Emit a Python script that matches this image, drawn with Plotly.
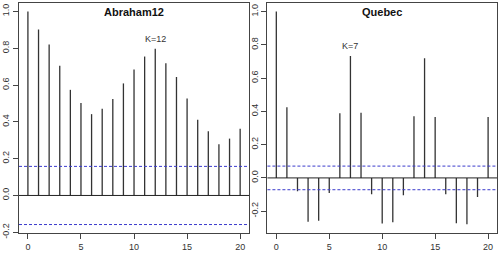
import plotly.graph_objects as go

lags = list(range(21))
abraham_acf = [1.0, 0.902, 0.82, 0.705, 0.574, 0.502, 0.442, 0.471, 0.524, 0.609, 0.685,
               0.755, 0.798, 0.718, 0.644, 0.527, 0.411, 0.349, 0.278, 0.309, 0.362]
quebec_acf = [1.0, 0.425, -0.080, -0.264, -0.258, -0.090, 0.389, 0.733, 0.392, -0.098, -0.274,
              -0.266, -0.104, 0.370, 0.719, 0.366, -0.098, -0.272, -0.278, -0.114, 0.366]
abraham_ci = 0.158
quebec_ci = 0.071
titles = ["Abraham12", "Quebec"]
peak_labels = ["K=12", "K=7"]
peak_lags = [12, 7]
x_ticks = [0, 5, 10, 15, 20]
y_ticks = [-0.2, 0.0, 0.2, 0.4, 0.6, 0.8, 1.0]
y_ticktext = ["-0.2", "0.0", "0.2", "0.4", "0.6", "0.8", "1.0"]

FONT = "Liberation Sans, Arial, sans-serif"
fig = go.Figure()

panels = [
    dict(vals=abraham_acf, ci=abraham_ci, xa="x", ya="y", dom=[0.0, 0.4813], yr=[-0.204, 1.046]),
    dict(vals=quebec_acf, ci=quebec_ci, xa="x2", ya="y2", dom=[0.5197, 1.0], yr=[-0.331, 1.051]),
]

layout = dict(
    width=499, height=254,
    margin=dict(l=16, r=1, t=3, b=21),
    paper_bgcolor="white", plot_bgcolor="white",
    showlegend=False,
    font=dict(family=FONT, size=9, color="#333333"),
)
shapes = []
annotations = []

for i, p in enumerate(panels):
    xs, ys = [], []
    for lag, v in zip(lags, p["vals"]):
        xs += [lag, lag, None]
        ys += [0, v, None]
    fig.add_trace(go.Scatter(x=xs, y=ys, mode="lines", xaxis=p["xa"], yaxis=p["ya"],
                             line=dict(color="#333333", width=1.3), hoverinfo="skip"))
    sfx = "" if i == 0 else "2"
    xref = "x" + sfx + " domain"
    yref = "y" + sfx
    shapes.append(dict(type="line", xref=xref, yref=yref, x0=0, x1=1, y0=0, y1=0,
                       line=dict(color="#222222", width=1)))
    for c in (p["ci"], -p["ci"]):
        shapes.append(dict(type="line", xref=xref, yref=yref, x0=0, x1=1, y0=c, y1=c,
                           line=dict(color="#3a3acc", width=1, dash="3px,2px")))
    annotations.append(dict(text="<b>" + titles[i] + "</b>", xref=xref, yref="paper",
                            x=0.5, y=1.0, yanchor="top", yshift=-1, showarrow=False,
                            font=dict(size=11, color="#111111", family=FONT)))
    pk = peak_lags[i]
    annotations.append(dict(text=peak_labels[i], xref="x" + sfx, yref=yref,
                            x=pk, y=p["vals"][pk], yanchor="bottom", yshift=3,
                            showarrow=False, font=dict(size=9, color="#333333", family=FONT)))
    axcommon = dict(showline=True, linecolor="#444444", linewidth=1, mirror=True,
                    showgrid=False, zeroline=False, ticks="outside", ticklen=5,
                    tickcolor="#444444", tickfont=dict(size=9, color="#333333", family=FONT))
    layout["xaxis" + sfx] = dict(axcommon, domain=p["dom"], range=[-0.84, 20.84],
                                 tickvals=x_ticks, anchor="y" + sfx)
    ytv = [t for t in y_ticks if p["yr"][0] - 1e-9 <= t <= p["yr"][1]]
    ytt = [y_ticktext[y_ticks.index(t)] for t in ytv]
    layout["yaxis" + sfx] = dict(axcommon, range=p["yr"], tickvals=ytv, ticktext=ytt,
                                 tickangle=-90, anchor="x" + sfx, ticklabelstandoff=0)

layout["shapes"] = shapes
layout["annotations"] = annotations
fig.update_layout(**layout)
fig.write_html("out.html")
